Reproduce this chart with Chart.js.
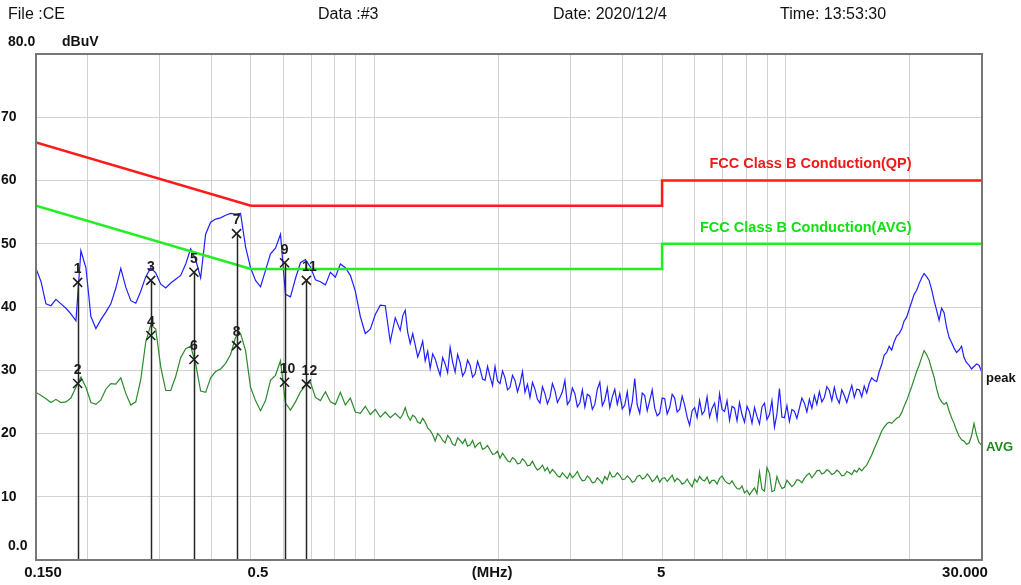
<!DOCTYPE html>
<html>
<head>
<meta charset="utf-8">
<script src="https://cdn.jsdelivr.net/npm/chart.js@4.4.1/dist/chart.umd.min.js"></script>
<style>
  html, body { margin: 0; padding: 0; background: #fff; }
  #wrap { width: 1021px; height: 585px; position: relative; }
</style>
</head>
<body>
<div id="wrap"><canvas id="emiChart"></canvas></div>
<script>
// --- Sweep data (MHz / dBuV) ---
const freqMHz = [
  0.1500,0.1543,0.1586,0.1631,0.1677,0.1725,0.1774,0.1824,0.1876,0.1929,
  0.1984,0.2040,0.2098,0.2157,0.2218,0.2281,0.2346,0.2412,0.2481,0.2551,
  0.2623,0.2697,0.2774,0.2853,0.2933,0.3017,0.3102,0.3190,0.3280,0.3373,
  0.3469,0.3567,0.3668,0.3772,0.3879,0.3989,0.4102,0.4218,0.4338,0.4461,
  0.4587,0.4717,0.4851,0.4988,0.5130,0.5275,0.5425,0.5578,0.5736,0.5899,
  0.6066,0.6238,0.6415,0.6597,0.6784,0.6976,0.7174,0.7377,0.7586,0.7801,
  0.8022,0.8249,0.8483,0.8724,0.8971,0.9225,0.9486,0.9755,1.0032,1.0316,
  1.0608,1.0909,1.1218,
  1.1536,1.1698,1.1863,1.2030,1.2199,1.2371,1.2545,1.2722,1.2900,1.3082,
  1.3266,1.3453,1.3642,1.3834,1.4029,1.4227,1.4426,1.4629,1.4835,1.5044,
  1.5255,1.5470,1.5687,1.5908,1.6132,1.6359,1.6589,1.6823,1.7059,1.7299,
  1.7543,1.7790,1.8040,1.8294,1.8551,1.8812,1.9077,1.9346,1.9617,1.9893,
  2.0173,2.0457,2.0745,2.1037,2.1333,2.1633,2.1938,2.2247,2.2559,2.2877,
  2.3199,2.3526,2.3856,2.4192,2.4532,2.4877,2.5227,2.5582,2.5942,2.6307,
  2.6677,2.7053,2.7433,2.7819,2.8211,2.8608,2.9010,2.9418,2.9832,3.0252,
  3.0678,3.1110,3.1547,3.1991,3.2441,3.2898,3.3361,3.3831,3.4306,3.4789,
  3.5278,3.5775,3.6278,3.6789,3.7306,3.7831,3.8363,3.8903,3.9451,4.0006,
  4.0569,4.1140,4.1718,4.2305,4.2901,4.3505,4.4116,4.4737,4.5367,4.6006,
  4.6652,4.7309,4.7974,4.8649,4.9334,5.0029,5.0732,5.1446,5.2170,5.2905,
  5.3648,5.4403,5.5169,5.5946,5.6732,5.7531,5.8340,5.9161,5.9993,6.0838,
  6.1693,6.2562,6.3442,6.4335,6.5240,6.6159,6.7089,6.8034,6.8990,6.9961,
  7.0945,7.1944,7.2956,7.3983,7.5023,7.6079,7.7149,7.8235,7.9335,8.0452,
  8.1584,8.2733,8.3896,8.5077,8.6273,8.7488,8.8718,8.9967,9.1233,9.2518,
  9.3818,9.5139,9.6477,9.7835,9.9211,10.061,10.202,10.346,10.491,10.639,
  10.789,10.941,11.094,11.250,11.409,11.570,11.732,11.897,12.065,12.235,
  12.407,12.582,12.758,12.938,13.120,13.305,13.492,13.682,13.874,14.069,
  14.267,14.468,14.671,14.878,15.084,15.296,15.512,15.730,15.951,16.176,
  16.404,16.635,16.868,17.106,17.346,17.590,17.838,18.089,18.344,18.602,
  18.863,19.129,19.398,19.671,19.948,20.229,20.513,20.802,21.095,21.392,
  21.692,21.997,22.307,22.621,22.940,23.263,23.590,23.922,24.258,24.600,
  24.946,25.297,25.653,26.014,26.380,26.751,27.127,27.509,27.896,28.289,
  28.687,29.091,29.500,30.000
];

const peakDb = [
  46.1,44.0,40.5,40.2,41.2,40.5,39.8,38.9,37.8,48.9,
  46.2,38.5,36.6,38.0,39.2,40.5,43.0,46.1,43.1,41.0,
  40.6,42.5,44.8,46.2,45.4,43.6,43.0,43.8,44.4,45.0,
  46.8,49.2,47.5,44.6,51.5,53.4,53.9,54.1,54.5,54.8,
  54.7,54.8,49.5,46.2,44.2,43.2,45.8,48.4,49.3,51.5,
  42.0,41.6,44.5,47.0,47.5,46.3,44.3,44.0,43.5,45.5,
  44.7,46.8,46.2,45.0,42.5,38.5,35.8,36.5,38.8,40.3,
  40.2,34.5,38.3,
  36.3,38.6,39.5,36.0,34.2,35.8,34.0,32.1,33.2,34.6,
  31.5,33.0,30.3,32.6,31.8,30.4,29.2,32.0,31.0,29.6,
  33.6,31.3,29.7,32.5,31.2,29.1,29.8,31.6,30.8,28.9,
  29.4,31.4,30.2,28.6,28.4,30.6,29.0,27.6,30.6,28.3,
  27.9,29.9,28.8,26.9,27.3,29.2,28.4,26.6,27.9,29.8,
  26.5,27.8,25.7,28.1,27.0,25.4,24.8,27.4,26.3,24.7,
  25.7,27.9,26.8,24.9,25.7,26.6,28.4,24.6,25.2,27.2,
  26.3,24.2,24.8,26.9,24.2,26.2,25.9,23.8,24.6,27.0,
  28.1,24.4,25.3,27.2,24.1,25.8,27.0,24.6,26.3,23.9,
  24.5,26.6,23.2,25.0,28.7,24.5,23.2,26.4,26.0,23.6,
  25.2,26.9,24.0,22.8,23.2,25.6,25.5,23.1,24.1,26.2,
  25.6,23.4,23.8,25.9,24.5,22.6,21.3,23.6,24.1,22.5,
  25.2,23.0,23.6,25.8,22.6,24.0,24.8,22.3,26.3,23.8,
  23.5,25.2,22.1,24.3,24.0,22.0,24.9,23.0,21.8,24.3,
  23.4,21.6,24.1,22.7,21.5,24.2,24.8,22.2,23.0,25.2,
  21.0,23.1,27.1,22.6,22.5,24.4,21.9,23.8,23.5,22.4,
  24.0,25.6,24.8,23.4,25.4,24.0,26.0,24.6,26.6,25.0,
  25.7,27.4,26.8,25.2,27.3,25.6,24.8,26.9,26.0,24.9,
  26.3,27.6,25.7,27.0,26.9,25.8,27.5,26.4,27.9,28.8,
  28.4,28.2,29.8,30.9,32.4,32.8,33.8,33.2,34.5,35.4,
  35.8,36.5,37.8,38.4,39.6,40.8,42.0,42.6,43.7,44.6,
  45.3,44.8,44.2,42.8,41.0,39.5,37.9,39.8,39.1,36.8,
  35.2,34.4,33.5,32.8,33.2,33.8,32.0,31.2,30.8,30.2,
  30.6,31.0,30.8,29.7
];

const avgDb = [
  26.5,26.0,25.5,24.9,25.4,24.9,25.0,25.6,27.3,28.9,
  27.3,24.9,24.6,25.3,27.0,27.9,27.8,28.8,26.3,24.5,
  25.0,28.5,34.5,37.2,36.5,30.5,26.8,26.8,29.0,32.0,
  33.4,33.8,31.0,26.7,26.5,28.8,29.8,30.2,31.1,32.5,
  35.2,35.8,33.1,27.3,25.2,23.6,25.2,28.4,29.2,31.5,
  24.8,23.7,25.0,26.6,27.6,28.1,25.7,25.2,26.6,25.0,
  24.6,26.5,24.5,25.6,23.4,23.2,24.3,23.0,23.8,22.6,
  23.4,22.5,23.2,
  22.4,23.0,24.1,22.8,22.1,22.9,22.6,21.8,21.6,22.4,
  21.8,20.9,20.5,19.8,18.8,20.0,19.6,18.9,18.5,19.7,
  19.2,18.3,18.1,19.3,18.9,18.4,19.1,18.0,18.2,18.9,
  17.8,18.3,18.6,17.5,17.7,18.1,17.4,16.7,16.8,17.2,
  16.1,16.9,16.3,15.7,15.5,16.2,15.9,15.2,15.3,16.0,
  15.6,14.9,15.0,15.6,14.8,14.2,14.5,15.0,14.1,14.6,
  13.7,14.3,13.9,13.3,13.1,13.8,13.3,12.9,13.7,13.0,
  13.4,14.0,13.1,12.5,12.6,13.3,12.9,12.2,12.3,13.0,
  12.6,12.1,13.2,12.7,13.9,13.1,13.2,13.8,13.4,12.7,
  12.8,13.3,12.9,12.3,12.5,13.2,13.4,12.8,13.0,13.6,
  13.1,12.4,12.7,13.3,12.3,12.9,13.0,12.4,12.9,13.4,
  12.4,12.9,12.6,12.0,12.2,12.8,12.1,11.6,12.8,12.3,
  13.2,12.7,12.5,13.1,12.1,12.6,12.6,12.0,12.9,13.3,
  12.6,12.2,12.0,12.5,11.8,11.3,11.2,11.7,10.6,11.0,
  10.3,10.9,11.4,10.5,13.9,11.2,10.9,14.6,13.7,10.8,
  11.0,13.2,12.1,11.3,11.5,12.6,12.1,11.6,12.0,12.7,
  12.6,12.2,12.9,13.4,13.7,13.0,13.5,14.1,14.2,13.6,
  13.8,14.3,14.0,13.5,13.7,14.2,13.9,13.3,13.4,14.0,
  13.8,13.5,14.2,13.9,14.5,14.1,14.6,15.0,15.8,16.6,
  17.6,18.5,19.4,20.4,21.0,21.5,21.8,21.6,22.0,22.4,
  22.6,23.3,24.3,25.2,26.3,27.4,28.6,29.8,30.8,32.0,
  33.1,32.5,31.6,30.2,28.9,27.1,25.7,25.0,24.6,24.9,
  23.6,22.5,21.6,20.5,19.6,19.0,18.8,18.3,18.5,19.6,
  21.6,19.8,18.6,18.1
];

// --- FCC Class B limit lines ---
const limitFreq = [0.15, 0.5, 5, 5, 30];
const qpLimit = [66, 56, 56, 60, 60];
const avgLimit = [56, 46, 46, 50, 50];

// --- Final measurement markers (odd = QP, even = AVG) ---
const markerFreq = [0.1894, 0.2853, 0.3633, 0.4613, 0.6035, 0.682];
const markerQp = [43.9, 44.2, 45.5, 51.6, 47.0, 44.2];
const markerAvg = [27.9, 35.5, 31.7, 33.9, 28.1, 27.8];

// --- Axis ---
const gridFreq = [0.15, 0.2, 0.3, 0.4, 0.5, 0.6, 0.7, 0.8, 0.9, 1, 2, 3, 4, 5, 6, 7, 8, 9, 10, 20, 30];
const xLabels = [
  { f: 0.15, text: '0.150', dx: 7 },
  { f: 0.5, text: '0.5', dx: 7 },
  { f: 1.93, text: '(MHz)', dx: 0 },
  { f: 5, text: '5', dx: -1 },
  { f: 30, text: '30.000', dx: -17 }
];
const yLabels = [70, 60, 50, 40, 30, 20, 10];

const toPts = (xs, ys) => xs.map((f, i) => ({ x: f, y: ys[i] }));
const FONT = '"Liberation Sans", Arial, sans-serif';

const overlay = {
  id: 'overlay',
  afterDatasetsDraw(chart) {
    const { ctx, chartArea: a, scales: { x, y } } = chart;
    ctx.save();
    // marker drop lines
    ctx.strokeStyle = '#262626';
    ctx.lineWidth = 1.5;
    markerFreq.forEach((f, i) => {
      const px = Math.round(x.getPixelForValue(f)) + 0.5;
      ctx.beginPath();
      ctx.moveTo(px, y.getPixelForValue(markerQp[i]));
      ctx.lineTo(px, a.bottom);
      ctx.stroke();
    });
    // X marks and numbers
    const drawMark = (px, py, num) => {
      const s = 4.5;
      ctx.strokeStyle = '#1e1e1e';
      ctx.lineWidth = 1.6;
      ctx.beginPath();
      ctx.moveTo(px - s, py - s); ctx.lineTo(px + s, py + s);
      ctx.moveTo(px + s, py - s); ctx.lineTo(px - s, py + s);
      ctx.stroke();
      ctx.fillStyle = '#1e1e1e';
      ctx.font = 'bold 14px ' + FONT;
      ctx.textAlign = 'center';
      ctx.textBaseline = 'middle';
      ctx.fillText(String(num), px + (num >= 10 ? 3 : 0), py - 13);
    };
    markerFreq.forEach((f, i) => {
      const px = x.getPixelForValue(f);
      drawMark(px, y.getPixelForValue(markerQp[i]), 2 * i + 1);
      drawMark(px, y.getPixelForValue(markerAvg[i]), 2 * i + 2);
    });
    ctx.restore();
  },
  afterDraw(chart) {
    const { ctx, chartArea: a, scales: { x, y } } = chart;
    ctx.save();
    // plot frame
    ctx.strokeStyle = '#777';
    ctx.lineWidth = 2;
    ctx.strokeRect(a.left, a.top, a.right - a.left, a.bottom - a.top);

    // header
    ctx.fillStyle = '#111';
    ctx.font = '16px ' + FONT;
    ctx.textAlign = 'left';
    ctx.textBaseline = 'middle';
    ctx.fillText('File :CE', 8, 15);
    ctx.fillText('Data :#3', 318, 15);
    ctx.fillText('Date: 2020/12/4', 553, 15);
    ctx.fillText('Time: 13:53:30', 780, 15);

    // y labels
    ctx.font = 'bold 14px ' + FONT;
    ctx.fillText('80.0', 8, y.getPixelForValue(80) - 12);
    ctx.fillText('dBuV', 62, y.getPixelForValue(80) - 12);
    yLabels.forEach(v => ctx.fillText(String(v), 1, y.getPixelForValue(v)));
    ctx.fillText('0.0', 8, y.getPixelForValue(0) - 14);

    // x labels
    ctx.font = 'bold 15px ' + FONT;
    ctx.textAlign = 'center';
    xLabels.forEach(l => ctx.fillText(l.text, x.getPixelForValue(l.f) + l.dx, a.bottom + 13));

    // limit captions
    ctx.font = 'bold 14.5px ' + FONT;
    ctx.textAlign = 'right';
    ctx.fillStyle = '#f01818';
    ctx.fillText('FCC Class B Conduction(QP)', x.getPixelForValue(20) + 2, y.getPixelForValue(60) - 17);
    ctx.fillStyle = '#10e010';
    ctx.fillText('FCC Class B Conduction(AVG)', x.getPixelForValue(20) + 2, y.getPixelForValue(50) - 16);

    // trace end captions
    ctx.font = 'bold 13px ' + FONT;
    ctx.textAlign = 'left';
    ctx.fillStyle = '#111';
    ctx.fillText('peak', a.right + 4, y.getPixelForValue(peakDb[peakDb.length - 1]) + 6);
    ctx.fillStyle = '#1d8a1d';
    ctx.fillText('AVG', a.right + 4, y.getPixelForValue(avgDb[avgDb.length - 1]) + 2);
    ctx.restore();
  }
};

new Chart(document.getElementById('emiChart'), {
  type: 'line',
  data: {
    datasets: [
      { label: 'QP limit', data: toPts(limitFreq, qpLimit), borderColor: '#ff1a1a', borderWidth: 2.5 },
      { label: 'AVG limit', data: toPts(limitFreq, avgLimit), borderColor: '#22ee22', borderWidth: 2.5 },
      { label: 'peak', data: toPts(freqMHz, peakDb), borderColor: '#1f1fff', borderWidth: 1.2 },
      { label: 'AVG', data: toPts(freqMHz, avgDb), borderColor: '#2b8a2b', borderWidth: 1.2 }
    ]
  },
  options: {
    responsive: true,
    maintainAspectRatio: false,
    animation: false,
    layout: { padding: { left: 36, top: 54, right: 39, bottom: 25 } },
    elements: { point: { radius: 0 }, line: { tension: 0 } },
    plugins: { legend: { display: false }, tooltip: { enabled: false } },
    scales: {
      x: {
        type: 'logarithmic',
        min: 0.15,
        max: 30,
        afterBuildTicks: axis => { axis.ticks = gridFreq.map(v => ({ value: v })); },
        ticks: { display: false },
        grid: { color: '#d2d2d2', lineWidth: 1, drawTicks: false },
        border: { display: false }
      },
      y: {
        type: 'linear',
        min: 0,
        max: 80,
        ticks: { display: false, stepSize: 10 },
        grid: { color: '#d2d2d2', lineWidth: 1, drawTicks: false },
        border: { display: false }
      }
    }
  },
  plugins: [overlay]
});
</script>
</body>
</html>
